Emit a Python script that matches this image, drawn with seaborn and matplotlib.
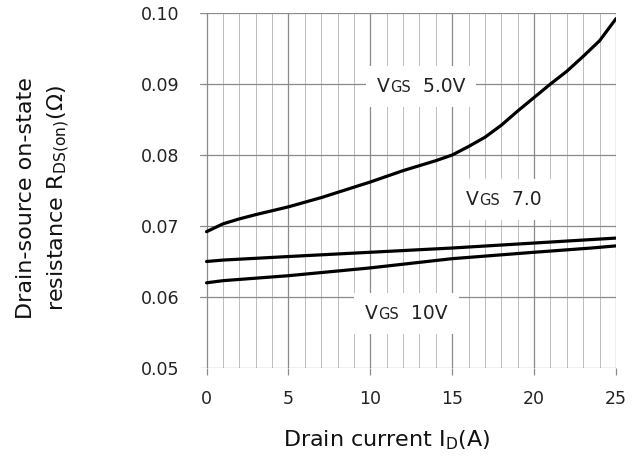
import numpy as np
import pandas as pd
import matplotlib
matplotlib.use("Agg")
import matplotlib.pyplot as plt
import seaborn as sns
from matplotlib.offsetbox import TextArea, HPacker, AnnotationBbox
from matplotlib.ticker import MultipleLocator, FormatStrFormatter

# values
current_5v = [0, 1, 2, 3, 5, 7, 10, 12, 14, 15, 16, 17, 18, 19, 20, 21, 22, 23, 24, 25]
rds_5v = [0.0692, 0.0703, 0.0710, 0.0716, 0.0727, 0.0740, 0.0762, 0.0778, 0.0792, 0.0800,
          0.0812, 0.0825, 0.0842, 0.0862, 0.0881, 0.0900, 0.0918, 0.0939, 0.0961, 0.0992]
current_7v = [0, 1, 5, 10, 15, 20, 25]
rds_7v = [0.0650, 0.0652, 0.0657, 0.0663, 0.0669, 0.0676, 0.0683]
current_10v = [0, 1, 5, 10, 15, 20, 23.5, 25]
rds_10v = [0.0620, 0.0623, 0.0630, 0.0641, 0.0654, 0.0663, 0.0669, 0.0672]

labels = ["5.0V", "7.0", "10V"]
label_x = [13.1, 18.15, 12.2]
label_y = [0.0896, 0.0737, 0.0577]

sns.set_style("white")
plt.rcParams["font.family"] = ["DejaVu Sans"]
plt.rcParams["mathtext.default"] = "regular"

fig = plt.figure(figsize=(6.39, 4.61), dpi=100)
ax = fig.add_axes([200 / 639, 1 - 368 / 461, 416 / 639, 355 / 461])

for xs, ys in [(current_5v, rds_5v), (current_7v, rds_7v), (current_10v, rds_10v)]:
    sns.lineplot(x=xs, y=ys, ax=ax, color="black", linewidth=2.3, legend=False)

ax.set_xlim(-0.4, 25)
ax.set_ylim(0.05, 0.10)
ax.xaxis.set_major_locator(MultipleLocator(5))
ax.xaxis.set_minor_locator(MultipleLocator(1))
ax.yaxis.set_major_locator(MultipleLocator(0.01))
ax.yaxis.set_major_formatter(FormatStrFormatter("%.2f"))

ax.grid(which="major", color="#8a8a8a", linewidth=0.9)
ax.grid(which="minor", axis="x", color="#bdbdbd", linewidth=0.7)
ax.set_axisbelow(True)
for s in ax.spines.values():
    s.set_visible(False)

ax.tick_params(axis="x", which="major", bottom=True, length=5, width=0.9, color="#8a8a8a",
               pad=11, labelsize=12.5, labelcolor="#222222")
ax.tick_params(axis="x", which="minor", bottom=False)
ax.tick_params(axis="y", left=False, length=0, pad=15, labelsize=12.5, labelcolor="#222222")

for lab, lx, ly in zip(labels, label_x, label_y):
    parts = [TextArea("V", textprops=dict(size=13.5, color="#222222")),
             TextArea("GS", textprops=dict(size=10.5, color="#222222")),
             TextArea("  " + lab, textprops=dict(size=13.5, color="#222222"))]
    pack = HPacker(children=parts, align="baseline", pad=0, sep=0)
    ab = AnnotationBbox(pack, (lx, ly), xycoords="data", frameon=True, pad=0.8,
                        bboxprops=dict(facecolor="white", edgecolor="none"))
    ax.add_artist(ab)

fig.text(0.606, 1 - 440 / 461, "Drain current I$_{D}$(A)", ha="center", va="center",
         fontsize=16, color="#111111")
fig.text(44 / 639, 1 - 198 / 461, "Drain-source on-state\nresistance R$_{DS(on)}$(Ω)",
         rotation=90, ha="center", va="center", multialignment="center",
         fontsize=16, linespacing=1.5, color="#111111")

fig.savefig("out.png", dpi=100)
